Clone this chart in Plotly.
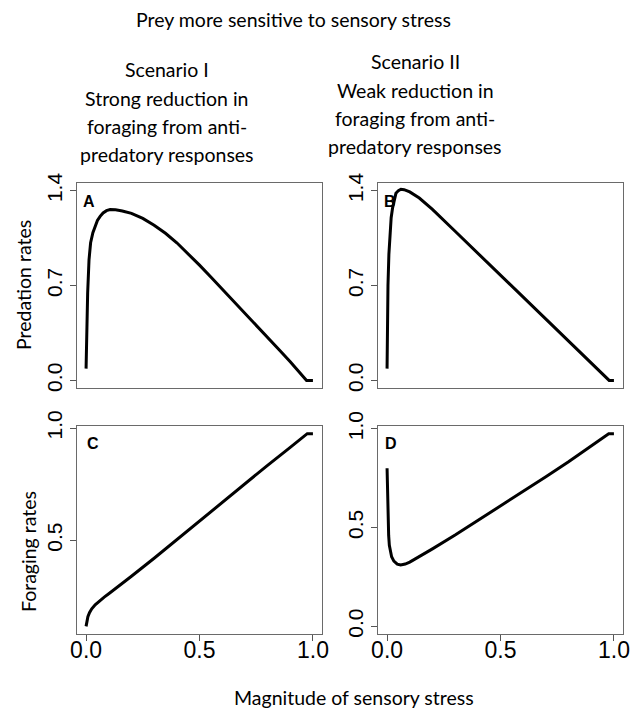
import plotly.graph_objects as go

# ---------------- data ----------------
a_x = [0, 0.001, 0.003, 0.007, 0.013, 0.02, 0.03, 0.04, 0.05, 0.062, 0.075, 0.09, 0.106, 0.13, 0.16, 0.2, 0.25, 0.3, 0.35, 0.4, 0.45, 0.5, 0.55, 0.6, 0.65, 0.7, 0.75, 0.8, 0.85, 0.9, 0.95, 0.972, 1.0]
a_y = [0.087, 0.2, 0.42, 0.646, 0.89, 1.015, 1.09, 1.137, 1.18, 1.21, 1.235, 1.252, 1.26, 1.258, 1.25, 1.232, 1.195, 1.145, 1.085, 1.015, 0.935, 0.85, 0.763, 0.675, 0.586, 0.497, 0.407, 0.318, 0.228, 0.138, 0.04, 0.0, 0.0]

b_x = [0, 0.001, 0.004, 0.008, 0.012, 0.018, 0.024, 0.031, 0.039, 0.05, 0.061, 0.075, 0.1, 0.142, 0.2, 0.3, 0.4, 0.5, 0.6, 0.7, 0.8, 0.9, 0.979, 1.0]
b_y = [0.087, 0.3, 0.70, 0.93, 1.09, 1.2, 1.27, 1.33, 1.38, 1.40, 1.41, 1.407, 1.39, 1.345, 1.262, 1.1, 0.938, 0.776, 0.614, 0.452, 0.290, 0.128, 0.0, 0.0]

c_x = [0, 0.003, 0.008, 0.015, 0.025, 0.04, 0.06, 0.08, 0.1, 0.15, 0.2, 0.3, 0.4, 0.5, 0.6, 0.7, 0.8, 0.9, 0.975, 1.0]
c_y = [0.117, 0.14, 0.16, 0.178, 0.195, 0.213, 0.232, 0.247, 0.262, 0.3, 0.34, 0.42, 0.503, 0.587, 0.67, 0.752, 0.834, 0.914, 0.975, 0.975]

d_x = [0, 0.001, 0.003, 0.005, 0.007, 0.01, 0.013, 0.02, 0.03, 0.045, 0.06, 0.08, 0.1, 0.15, 0.2, 0.3, 0.4, 0.5, 0.6, 0.7, 0.8, 0.9, 0.977, 1.0]
d_y = [0.80, 0.72, 0.60, 0.52, 0.46, 0.41, 0.386, 0.352, 0.33, 0.315, 0.31, 0.315, 0.325, 0.358, 0.392, 0.462, 0.535, 0.608, 0.682, 0.757, 0.833, 0.913, 0.975, 0.975]

x_ticks = [0, 0.5, 1.0]
x_tick_labels = ["0.0", "0.5", "1.0"]
pred_ticks = [0, 0.7, 1.4]
pred_tick_labels = ["0.0", "0.7", "1.4"]
forC_ticks = [0.5, 1.0]
forC_tick_labels = ["0.5", "1.0"]
forD_ticks = [0, 0.5, 1.0]
forD_tick_labels = ["0.0", "0.5", "1.0"]

panel_letters = ["A", "B", "C", "D"]
main_title = "Prey more sensitive to sensory stress"
scen1_lines = ["Scenario I", "Strong reduction in", "foraging from anti-", "predatory responses"]
scen2_lines = ["Scenario II", "Weak reduction in", "foraging from anti-", "predatory responses"]
ytitle_top = "Predation rates"
ytitle_bottom = "Foraging rates"
xtitle = "Magnitude of sensory stress"

# ---------------- figure ----------------
W, H = 630, 710
fig = go.Figure()

def px_x(p):
    return p / W

def px_y(p):
    return 1 - p / H

line = dict(color="black", width=3)
series = [(a_x, a_y, "x", "y"), (b_x, b_y, "x2", "y2"), (c_x, c_y, "x3", "y3"), (d_x, d_y, "x4", "y4")]
for xs, ys, xa, ya in series:
    fig.add_trace(go.Scatter(x=xs, y=ys, mode="lines", line=line, xaxis=xa, yaxis=ya,
                             showlegend=False, hoverinfo="skip"))

tick_font = dict(family="Liberation Sans, Arial, sans-serif", size=23, color="black")
ytick_font = dict(family="Liberation Sans, Arial, sans-serif", size=21, color="black")
axis_common = dict(showline=True, mirror=True, linecolor="#6a6a6a", linewidth=1, automargin=False,
                   showgrid=False, zeroline=False, ticklen=6, tickcolor="#555", tickwidth=1)

left_dom = [px_x(77), px_x(322)]
right_dom = [px_x(378), px_x(623)]
top_dom = [px_y(388), px_y(183)]
bot_dom = [px_y(634), px_y(426)]
xr = [-0.04, 1.04]

layout = dict(
    template="none",
    width=W, height=H, margin=dict(l=0, r=0, t=0, b=0, pad=0),
    paper_bgcolor="white", plot_bgcolor="white",
    xaxis=dict(domain=left_dom, range=xr, anchor="y", showticklabels=False, ticks="", **axis_common),
    yaxis=dict(domain=top_dom, range=[-0.056, 1.456], anchor="x", ticks="outside",
               tickvals=pred_ticks, ticktext=pred_tick_labels, tickangle=-90, tickfont=ytick_font, **axis_common),
    xaxis2=dict(domain=right_dom, range=xr, anchor="y2", showticklabels=False, ticks="", **axis_common),
    yaxis2=dict(domain=top_dom, range=[-0.056, 1.456], anchor="x2", ticks="outside",
                tickvals=pred_ticks, ticktext=pred_tick_labels, tickangle=-90, tickfont=ytick_font, **axis_common),
    xaxis3=dict(domain=left_dom, range=xr, anchor="y3", ticks="outside", ticklabelstandoff=-11,
                tickvals=x_ticks, ticktext=x_tick_labels, tickfont=tick_font, **axis_common),
    yaxis3=dict(domain=bot_dom, range=[0.083, 1.009], anchor="x3", ticks="outside",
                tickvals=forC_ticks, ticktext=forC_tick_labels, tickangle=-90, tickfont=ytick_font, **axis_common),
    xaxis4=dict(domain=right_dom, range=xr, anchor="y4", ticks="outside", ticklabelstandoff=-11,
                tickvals=x_ticks, ticktext=x_tick_labels, tickfont=tick_font, **axis_common),
    yaxis4=dict(domain=bot_dom, range=[-0.039, 1.014], anchor="x4", ticks="outside",
                tickvals=forD_ticks, ticktext=forD_tick_labels, tickangle=-90, tickfont=ytick_font, **axis_common),
)
fig.update_layout(**layout)

title_font = dict(family="Lato, Open Sans, sans-serif", size=19.5, color="black")
ann = []
ann.append(dict(text=main_title, x=px_x(293), y=px_y(20), xref="paper", yref="paper",
                showarrow=False, font=title_font, xanchor="center", yanchor="middle"))
for i, t in enumerate(scen1_lines):
    ann.append(dict(text=t, x=px_x(167), y=px_y(70 + 28.3 * i), xref="paper", yref="paper",
                    showarrow=False, font=title_font, xanchor="center", yanchor="middle"))
for i, t in enumerate(scen2_lines):
    ann.append(dict(text=t, x=px_x(415), y=px_y(62 + 28.3 * i), xref="paper", yref="paper",
                    showarrow=False, font=title_font, xanchor="center", yanchor="middle"))
ann.append(dict(text=ytitle_top, x=px_x(23), y=px_y(285), xref="paper", yref="paper", textangle=-90,
                showarrow=False, font=title_font, xanchor="center", yanchor="middle"))
ann.append(dict(text=ytitle_bottom, x=px_x(28), y=px_y(552), xref="paper", yref="paper", textangle=-90,
                showarrow=False, font=title_font, xanchor="center", yanchor="middle"))
ann.append(dict(text=xtitle, x=px_x(354), y=px_y(697), xref="paper", yref="paper",
                showarrow=False, font=title_font, xanchor="center", yanchor="middle"))

letter_font = dict(family="Liberation Sans, Arial, sans-serif", size=16, color="black")
letter_pos = [("x domain", "y domain", 0.049, 0.912), ("x2 domain", "y2 domain", 0.049, 0.912),
              ("x3 domain", "y3 domain", 0.066, 0.918), ("x4 domain", "y4 domain", 0.053, 0.918)]
for L, (xr_, yr_, fx, fy) in zip(panel_letters, letter_pos):
    ann.append(dict(text="<b>%s</b>" % L, x=fx, y=fy, xref=xr_, yref=yr_, showarrow=False,
                    font=letter_font, xanchor="center", yanchor="middle"))

fig.update_layout(annotations=ann)
fig.write_html("out.html", post_script="document.body.style.margin='0';")
